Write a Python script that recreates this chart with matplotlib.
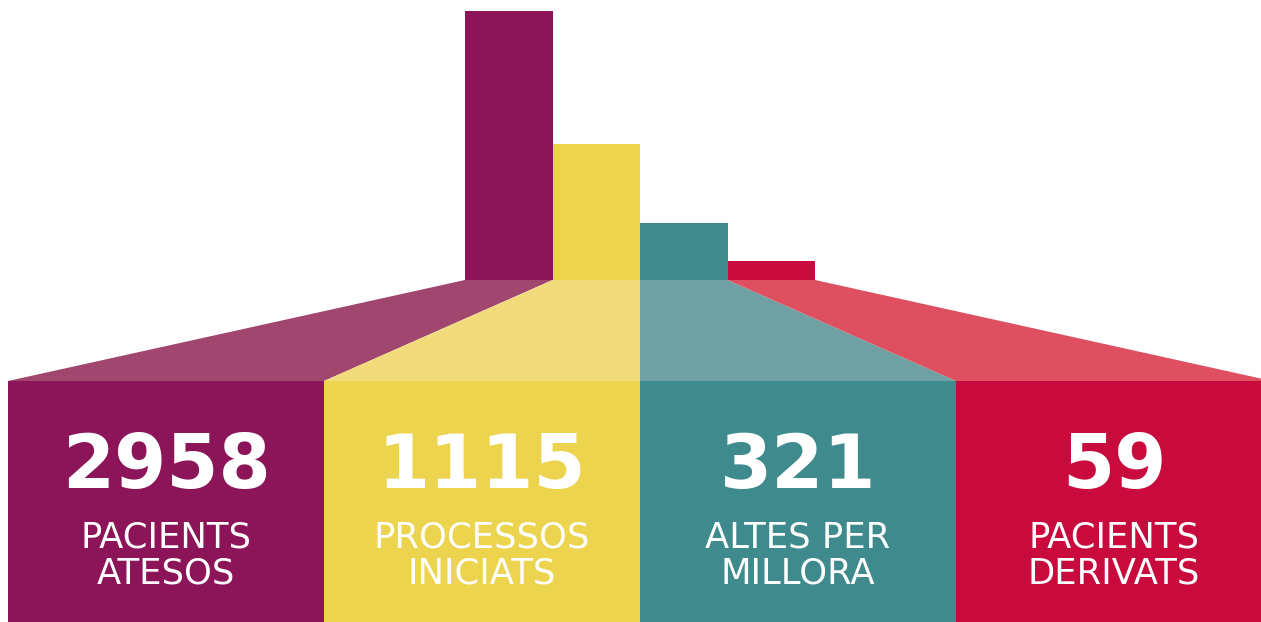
import matplotlib
matplotlib.use('Agg')
import matplotlib.pyplot as plt
from matplotlib.patches import Polygon

values = [2958, 1115, 321, 59]
labels = [('PACIENTS', 'ATESOS'), ('PROCESSOS', 'INICIATS'),
          ('ALTES PER', 'MILLORA'), ('PACIENTS', 'DERIVATS')]
# drawn bar heights (the picture does not use a linear scale)
bar_heights = [269, 136, 57, 19]

colors = ['#8C1559', '#EDD44F', '#3F8A8C', '#C80B3C']
light_colors = ['#A0466F', '#F2DB7B', '#6FA0A3', '#DE5060']

W, H = 1261, 622
fig = plt.figure(figsize=(W / 100, H / 100), dpi=100)
ax = fig.add_axes([0, 0, 1, 1])
ax.set_xlim(0, W)
ax.set_ylim(0, H)
ax.axis('off')

# layout
bar_x0, bar_w, bar_base = 465, 87.5, 342
panel_x0, panel_w, panel_top = 8, 316, 241

n = len(values)
bar_lefts = [bar_x0 + bar_w * i for i in range(n)]
panel_lefts = [panel_x0 + panel_w * i for i in range(n)]

# small bars on top
ax.bar(bar_lefts, bar_heights, width=bar_w, bottom=bar_base,
       color=colors, align='edge', linewidth=0)

# fan-out trapezoids
for i in range(n):
    pts = [(bar_lefts[i], bar_base), (bar_lefts[i] + bar_w, bar_base),
           (panel_lefts[i] + panel_w, panel_top), (panel_lefts[i], panel_top)]
    ax.add_patch(Polygon(pts, closed=True, facecolor=light_colors[i],
                         edgecolor='none'))

# big panels with the numbers
ax.bar(panel_lefts, [panel_top] * n, width=panel_w, bottom=0,
       color=colors, align='edge', linewidth=0)

for i in range(n):
    cx = panel_lefts[i] + 158
    ax.text(cx, 134, str(values[i]), ha='center', va='baseline',
            fontsize=54, fontweight='bold', color='white',
            family='DejaVu Sans')
    ax.text(cx, 75, labels[i][0], ha='center', va='baseline',
            fontsize=25.5, color='white', family='DejaVu Sans')
    ax.text(cx, 38, labels[i][1], ha='center', va='baseline',
            fontsize=25.5, color='white', family='DejaVu Sans')

fig.savefig('out.png', dpi=100)
